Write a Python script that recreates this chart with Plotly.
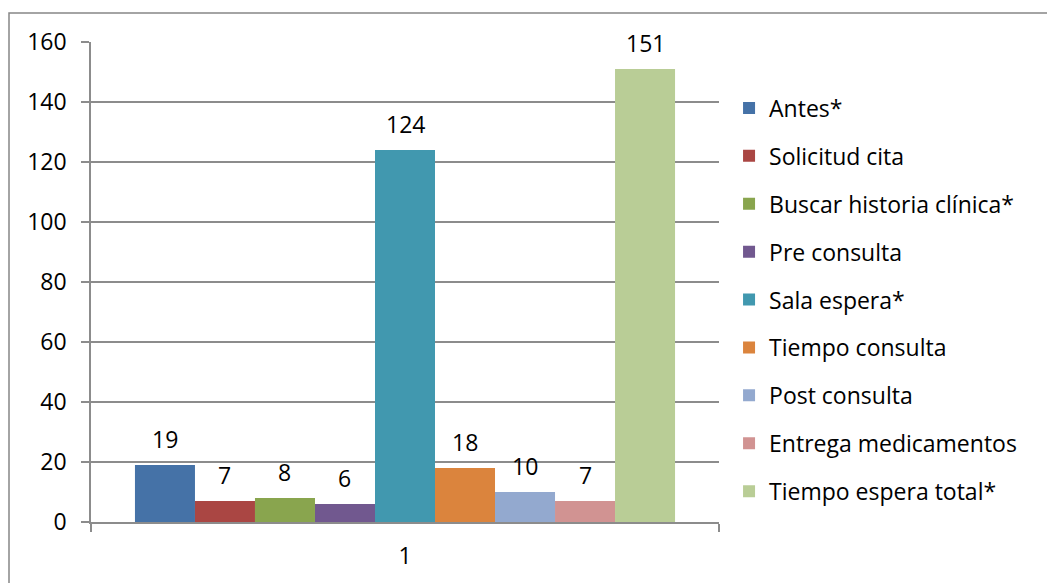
import plotly.graph_objects as go

# Tiempos promedio (minutos) por etapa de la atención
categoria = ["1"]
etapas = [
    "Antes*",
    "Solicitud cita",
    "Buscar historia clínica*",
    "Pre consulta",
    "Sala espera*",
    "Tiempo consulta",
    "Post consulta",
    "Entrega medicamentos",
    "Tiempo espera total*",
]
minutos = [19, 7, 8, 6, 124, 18, 10, 7, 151]
colores = [
    "#4572A7", "#AA4643", "#89A54E", "#71588F", "#4198AF",
    "#DB843D", "#93A9CF", "#D19392", "#B9CD96",
]
y_ticks = [0, 20, 40, 60, 80, 100, 120, 140, 160]

FONT = "'Open Sans', 'Noto Sans', sans-serif"
FS = 23
GRID = "#8c8c8c"
W, H = 1047, 583
L, R, T, B = 91, 328, 42, 61
BARGAP = 0.14

fig = go.Figure()
for i, (nombre, valor, color) in enumerate(zip(etapas, minutos, colores)):
    fig.add_trace(go.Bar(
        x=categoria, y=[valor], name=nombre,
        marker=dict(color=color, line=dict(width=0)),
        legendgroup=nombre,
    ))

# Etiquetas de valor sobre cada barra
n = len(etapas)
ancho = (1 - BARGAP) / n
for i, valor in enumerate(minutos):
    fig.add_annotation(
        x=(i - (n - 1) / 2) * ancho, y=valor, xref="x", yref="y",
        text=str(valor), showarrow=False, yshift=26,
        font=dict(family=FONT, size=FS, color="#000000"),
    )

# Borde exterior del área del gráfico
pw, ph = W - L - R, H - T - B
fig.add_shape(
    type="rect", xref="paper", yref="paper",
    x0=(9 - L) / pw, x1=(W + 10 - L) / pw,
    y0=-(H + 10 - T - ph) / ph, y1=(H - 13 - B) / ph,
    line=dict(color="#868686", width=1.5), fillcolor="rgba(0,0,0,0)",
    layer="below",
)

fig.update_layout(
    width=W, height=H, autosize=False,
    margin=dict(l=L, r=R, t=T, b=B),
    paper_bgcolor="white", plot_bgcolor="white",
    barmode="group", bargap=BARGAP, bargroupgap=0,
    font=dict(family=FONT, size=FS, color="#000000"),
    showlegend=True,
    legend=dict(
        x=1.016, xanchor="left", y=0.4625, yanchor="middle",
        font=dict(family=FONT, size=FS, color="#000000"),
        tracegroupgap=15, itemwidth=30,
        bgcolor="rgba(0,0,0,0)",
    ),
    xaxis=dict(
        type="category", range=[-0.5, 0.5],
        showline=True, linecolor=GRID, linewidth=1.5,
        ticks="outside", tickson="boundaries", ticklen=8,
        tickcolor=GRID, tickwidth=1.5,
        showgrid=False, ticklabelstandoff=13,
        tickfont=dict(family=FONT, size=FS, color="#000000"),
    ),
    yaxis=dict(
        range=[0, 160], tickvals=y_ticks,
        showline=True, linecolor=GRID, linewidth=1.5,
        ticks="outside", ticklen=8, tickcolor=GRID, tickwidth=1.5,
        showgrid=True, gridcolor=GRID, gridwidth=1.5,
        zeroline=False, ticklabelstandoff=10,
        tickfont=dict(family=FONT, size=FS, color="#000000"),
    ),
)

fig.write_html("out.html")
